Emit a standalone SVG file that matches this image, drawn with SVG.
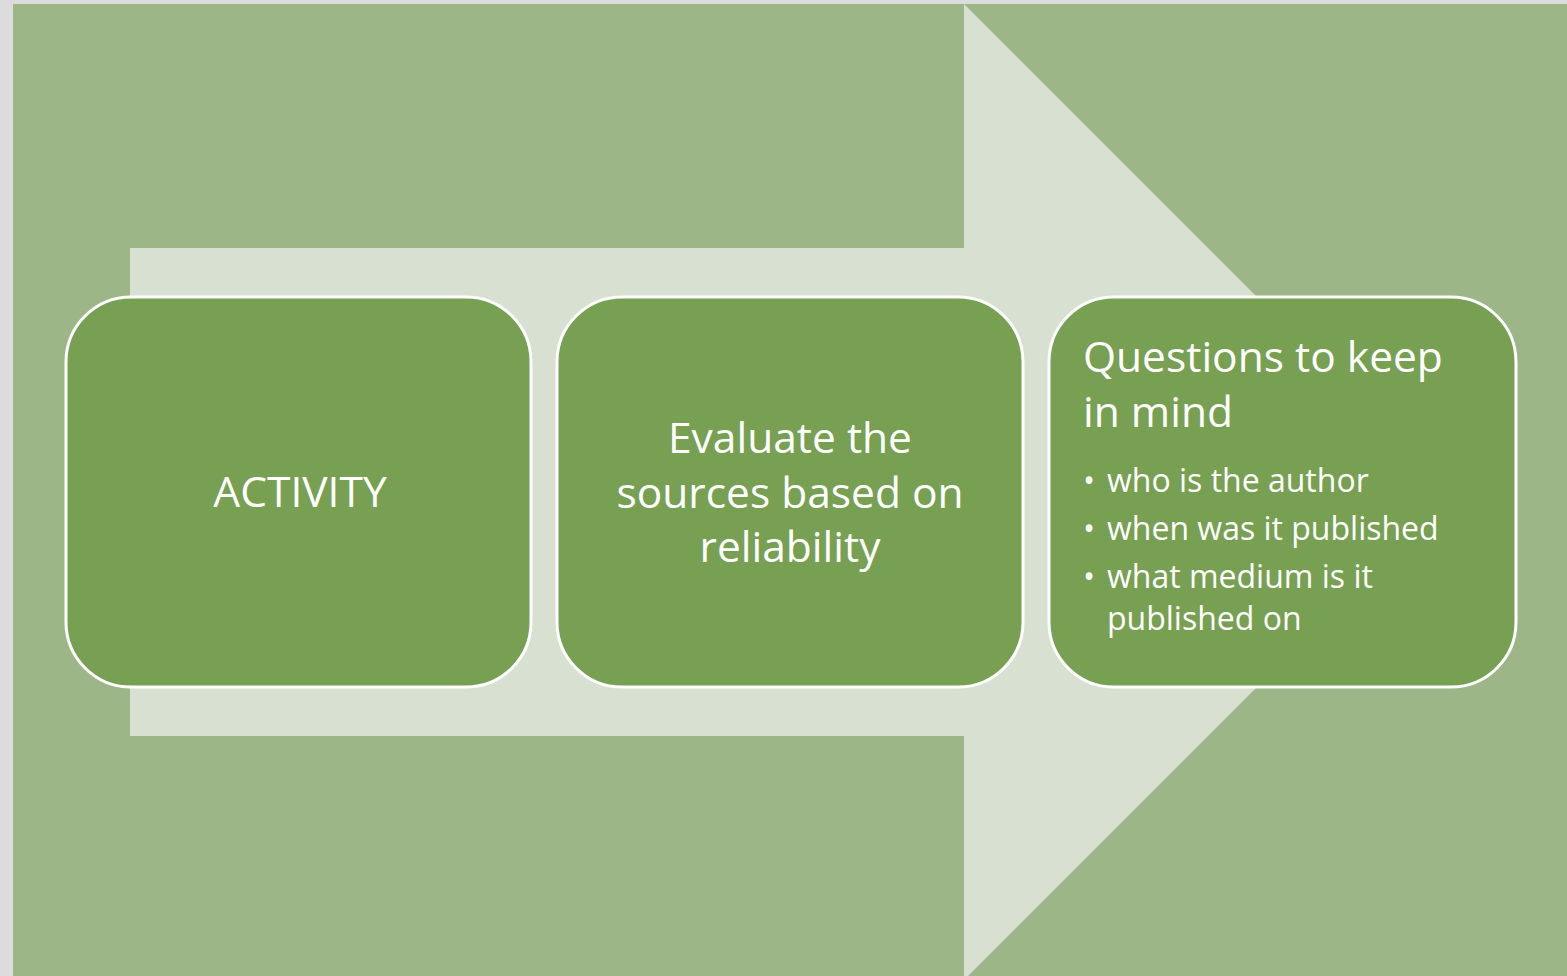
<svg xmlns="http://www.w3.org/2000/svg" width="1567" height="976" viewBox="0 0 1567 976">
<style>
.box{fill:#77a052;stroke:#ffffff;stroke-width:3}
.t{font-family:"Open Sans","Noto Sans","Liberation Sans",sans-serif;fill:#ffffff}
.big{font-size:42.5px}
.small{font-size:32px}
</style>
<rect x="0" y="0" width="1567" height="976" fill="#dcdcdc"/>
<rect x="13" y="4" width="1554" height="972" fill="#9cb687"/>
<g id="arrow">
<polygon points="130,248 964,248 964,4 1452,492 964,980 964,736 130,736" fill="#d8e0d2"/>
</g>
<g id="node1">
<rect class="box" x="66" y="297" width="465" height="390" rx="65" ry="65"/>
<text class="t big" x="300" y="507" text-anchor="middle">ACTIVITY</text>
</g>
<g id="node2">
<rect class="box" x="557" y="297" width="466" height="390" rx="65" ry="65"/>
<text class="t big" text-anchor="middle"><tspan x="790" y="453">Evaluate the</tspan><tspan x="790" y="508">sources based on</tspan><tspan x="790" y="562">reliability</tspan></text>
</g>
<g id="node3">
<rect class="box" x="1049" y="297" width="467" height="390" rx="65" ry="65"/>
<text class="t big"><tspan x="1083" y="372">Questions to keep</tspan><tspan x="1083" y="427">in mind</tspan></text>
<text class="t small"><tspan x="1083" y="492">•</tspan><tspan x="1107" y="492">who is the author</tspan><tspan x="1083" y="540">•</tspan><tspan x="1107" y="540">when was it published</tspan><tspan x="1083" y="588">•</tspan><tspan x="1107" y="588">what medium is it</tspan><tspan x="1107" y="630">published on</tspan></text>
</g>
<g id="connectors"></g>
</svg>
